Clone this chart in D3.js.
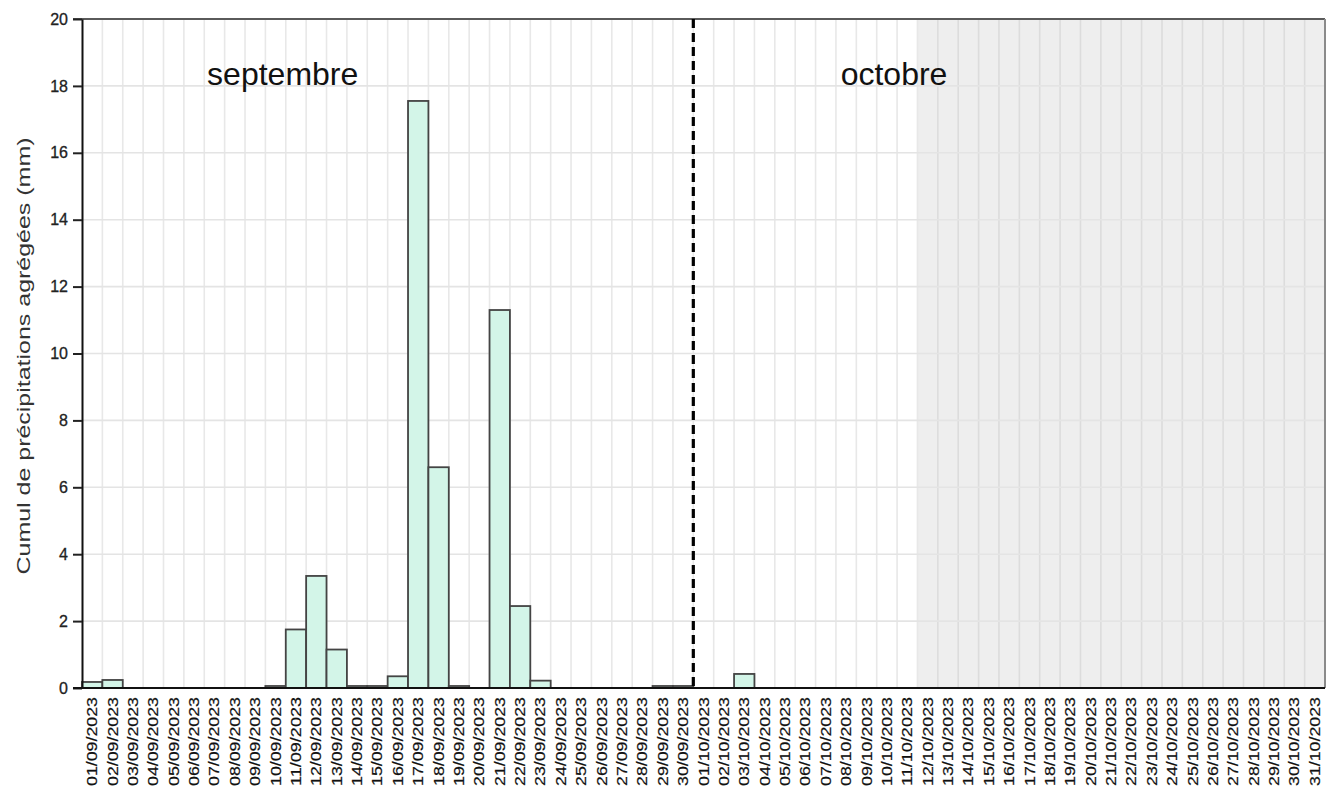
<!DOCTYPE html>
<html>
<head>
<meta charset="utf-8">
<script src="https://cdn.jsdelivr.net/npm/d3@7/dist/d3.min.js"></script>
<style>
  html, body { margin: 0; padding: 0; background: #ffffff; }
  svg { display: block; }
</style>
</head>
<body>
<svg id="chart" width="1326" height="790"></svg>
<script>
const dates = [
  "01/09/2023","02/09/2023","03/09/2023","04/09/2023","05/09/2023","06/09/2023","07/09/2023","08/09/2023","09/09/2023","10/09/2023",
  "11/09/2023","12/09/2023","13/09/2023","14/09/2023","15/09/2023","16/09/2023","17/09/2023","18/09/2023","19/09/2023","20/09/2023",
  "21/09/2023","22/09/2023","23/09/2023","24/09/2023","25/09/2023","26/09/2023","27/09/2023","28/09/2023","29/09/2023","30/09/2023",
  "01/10/2023","02/10/2023","03/10/2023","04/10/2023","05/10/2023","06/10/2023","07/10/2023","08/10/2023","09/10/2023","10/10/2023",
  "11/10/2023","12/10/2023","13/10/2023","14/10/2023","15/10/2023","16/10/2023","17/10/2023","18/10/2023","19/10/2023","20/10/2023",
  "21/10/2023","22/10/2023","23/10/2023","24/10/2023","25/10/2023","26/10/2023","27/10/2023","28/10/2023","29/10/2023","30/10/2023",
  "31/10/2023"
];
const precipitation = [
  0.18, 0.24, 0, 0, 0, 0, 0, 0, 0, 0.06,
  1.75, 3.35, 1.15, 0.06, 0.06, 0.35, 17.55, 6.6, 0.06, 0,
  11.3, 2.45, 0.22, 0, 0, 0, 0, 0, 0.06, 0.06,
  0, 0, 0.42, 0, 0, 0, 0, 0, 0, 0,
  0, 0, 0, 0, 0, 0, 0, 0, 0, 0,
  0, 0, 0, 0, 0, 0, 0, 0, 0, 0,
  0
];
const yTicks = [0, 2, 4, 6, 8, 10, 12, 14, 16, 18, 20];
const yDomain = [0, 20];
const months = ["septembre", "octobre"];
const monthStarts = ["01/09/2023", "01/10/2023"];
const grayFrom = "12/10/2023";
const yTitle = "Cumul de précipitations agrégées (mm)";

const svg = d3.select("#chart");
const L = 82, R = 1325, T = 19, B = 688;

const x = d3.scaleBand().domain(dates).range([L, R]).paddingInner(0).paddingOuter(0);
const y = d3.scaleLinear().domain(yDomain).range([B, T]);
const bw = x.bandwidth();

// gray future region
svg.append("rect")
  .attr("x", x(grayFrom)).attr("y", T)
  .attr("width", R - x(grayFrom)).attr("height", B - T)
  .attr("fill", "#eeeeee");

// grid lines
const grid = svg.append("g");
grid.selectAll("line.v").data(dates.slice(1)).join("line")
  .attr("x1", d => x(d)).attr("x2", d => x(d))
  .attr("y1", T).attr("y2", B)
  .attr("stroke", d => x(d) > x(grayFrom) ? "#dcdcdc" : "#e8e8e8")
  .attr("stroke-width", 1.6);
grid.selectAll("line.h").data(yTicks.slice(1, -1)).join("line")
  .attr("x1", L).attr("x2", R)
  .attr("y1", d => y(d)).attr("y2", d => y(d))
  .attr("stroke", "#e4e4e4")
  .attr("stroke-width", 1.6);

// bars
svg.append("g").selectAll("rect").data(dates.map((d, i) => ({d, v: precipitation[i]})).filter(e => e.v > 0))
  .join("rect")
  .attr("x", e => x(e.d))
  .attr("y", e => y(e.v))
  .attr("width", bw)
  .attr("height", e => B - y(e.v))
  .attr("fill", "#d3f5e8")
  .attr("stroke", "#444")
  .attr("stroke-width", 1.8);

// top and right border
svg.append("line").attr("x1", 73).attr("x2", R).attr("y1", T).attr("y2", T)
  .attr("stroke", "#5a5a5a").attr("stroke-width", 2);
svg.append("line").attr("x1", R).attr("x2", R).attr("y1", T).attr("y2", B)
  .attr("stroke", "#8a8a8a").attr("stroke-width", 2);

// y axis
const yAxis = svg.append("g").attr("transform", `translate(${L},0)`)
  .call(d3.axisLeft(y).tickValues(yTicks).tickSize(9).tickPadding(5).tickSizeOuter(0));
yAxis.select(".domain").attr("stroke", "#111").attr("stroke-width", 2);
yAxis.selectAll(".tick line").attr("stroke", "#222").attr("stroke-width", 2);
yAxis.selectAll(".tick text")
  .attr("font-family", "Liberation Sans, Arial, sans-serif")
  .attr("font-size", 16)
  .attr("fill", "#222")
  .attr("stroke", "#222").attr("stroke-width", 0.3);

// bottom axis line
svg.append("line").attr("x1", 73).attr("x2", R).attr("y1", B).attr("y2", B)
  .attr("stroke", "#111").attr("stroke-width", 2);

// x labels
svg.append("g").selectAll("text").data(dates).join("text")
  .attr("transform", d => `translate(${x(d) + bw / 2 + 5},697) rotate(-90)`)
  .attr("text-anchor", "end")
  .attr("font-family", "Liberation Sans, Arial, sans-serif")
  .attr("font-size", 14.5)
  .attr("fill", "#111")
  .attr("stroke", "#111").attr("stroke-width", 0.2)
  .attr("textLength", 89)
  .attr("lengthAdjust", "spacingAndGlyphs")
  .text(d => d);

// dashed month separator
svg.append("line")
  .attr("x1", x(monthStarts[1])).attr("x2", x(monthStarts[1]))
  .attr("y1", T).attr("y2", B)
  .attr("stroke", "#000").attr("stroke-width", 3.2)
  .attr("stroke-dasharray", "9,5");

// month labels
svg.append("g").selectAll("text").data(months).join("text")
  .attr("x", (m, i) => x(monthStarts[i]) + bw * 9.85)
  .attr("y", 85)
  .attr("text-anchor", "middle")
  .attr("font-family", "Liberation Sans, Arial, sans-serif")
  .attr("font-size", 32)
  .attr("fill", "#111")
  .text(m => m);

// y title
svg.append("text")
  .attr("transform", `translate(30,356) rotate(-90)`)
  .attr("text-anchor", "middle")
  .attr("font-family", "Liberation Sans, Arial, sans-serif")
  .attr("font-size", 19)
  .attr("fill", "#333")
  .attr("textLength", 437)
  .attr("lengthAdjust", "spacingAndGlyphs")
  .text(yTitle);
</script>
</body>
</html>
